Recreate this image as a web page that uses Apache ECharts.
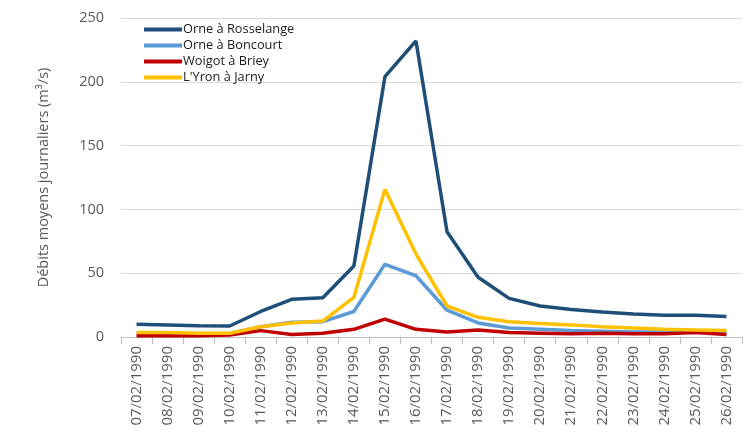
<!DOCTYPE html>
<html><head><meta charset="utf-8">
<script src="https://cdn.jsdelivr.net/npm/echarts@6/dist/echarts.min.js"></script>
<style>html,body{margin:0;padding:0;background:#fff}#c{width:743px;height:441px}</style>
</head><body><div id="c"></div>
<script>
const categories = ["07/02/1990","08/02/1990","09/02/1990","10/02/1990","11/02/1990","12/02/1990","13/02/1990","14/02/1990","15/02/1990","16/02/1990","17/02/1990","18/02/1990","19/02/1990","20/02/1990","21/02/1990","22/02/1990","23/02/1990","24/02/1990","25/02/1990","26/02/1990"];
const rosselange = [10,9.5,8.8,8.6,20,29.5,30.8,55.6,204,232,82.5,46.8,30.3,24.3,21.5,19.5,18,17,17,16];
const boncourt = [3,3,2.5,2.5,8,11.5,12,20,57,48,21,11,7,6,5,4.5,4,4,4,4];
const briey = [1,1,1,1.5,5,2,3,6,14,6,4,5.5,3.5,3,2.5,3,2.5,2.5,3.5,2];
const jarny = [3.5,3.5,3,3,8,11,12.5,31,115.7,65,24.3,15.4,12,10.5,9.5,8,7,6,5.5,5];
const yTicks = {min:0,max:250,interval:50};

const chart = echarts.init(document.getElementById('c'));
const mk = (name, data, color) => ({name, type:'line', data, symbol:'none', lineStyle:{width:3.5,color}, itemStyle:{color}});
chart.setOption({
  animation:false,
  textStyle:{fontFamily:'Open Sans'},
  legend:{orient:'vertical', left:139, top:18, icon:'rect', itemWidth:38, itemHeight:4, itemGap:3,
    textStyle:{fontSize:12.8, color:'#1a1a1a', fontWeight:500, fontFamily:'Open Sans', padding:[0,0,0,-4], lineHeight:13},
    data:['Orne à Rosselange','Orne à Boncourt','Woigot à Briey',"L'Yron à Jarny"]},
  grid:{left:121, right:1, top:18, bottom:104, containLabel:false},
  xAxis:{type:'category', data:categories, boundaryGap:true,
    axisLine:{lineStyle:{color:'#bfbfbf'}},
    axisTick:{show:true, length:7, lineStyle:{color:'#bfbfbf'}, alignWithLabel:false},
    axisLabel:{rotate:90, color:'#595959', fontSize:15, interval:0, margin:9}},
  yAxis:{type:'value', min:yTicks.min, max:yTicks.max, interval:yTicks.interval,
    name:'Débits moyens journaliers (m³/s)', nameLocation:'middle', nameGap:70, nameRotate:90,
    nameTextStyle:{fontSize:14.5, color:'#595959'},
    axisLine:{show:false}, axisTick:{show:false},
    axisLabel:{color:'#595959', fontSize:14.5, margin:17},
    splitLine:{lineStyle:{color:'#d9d9d9'}}},
  series:[
    mk('Orne à Rosselange', rosselange, '#1f4e79'),
    mk('Orne à Boncourt', boncourt, '#5b9bd5'),
    mk('Woigot à Briey', briey, '#c00000'),
    mk("L'Yron à Jarny", jarny, '#ffc000')
  ]
});
</script></body></html>
